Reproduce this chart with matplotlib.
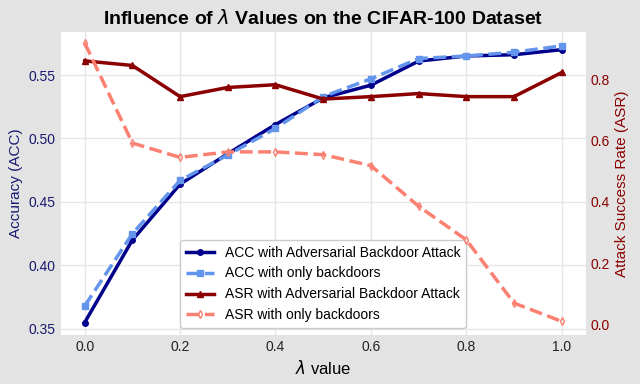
import matplotlib
matplotlib.use('Agg')
import matplotlib.pyplot as plt

plt.rcParams['font.family'] = ['Liberation Sans', 'DejaVu Sans']
plt.rcParams['mathtext.fontset'] = 'dejavusans'

# lambda values
lam = [0.0, 0.1, 0.2, 0.3, 0.4, 0.5, 0.6, 0.7, 0.8, 0.9, 1.0]

# accuracy
acc_adv = [0.355, 0.420, 0.464, 0.488, 0.511, 0.532, 0.542, 0.561, 0.565, 0.566, 0.570]
acc_only = [0.368, 0.425, 0.467, 0.487, 0.508, 0.533, 0.547, 0.563, 0.565, 0.568, 0.573]

# attack success rate
asr_adv = [0.862, 0.847, 0.745, 0.775, 0.784, 0.737, 0.745, 0.755, 0.745, 0.745, 0.824]
asr_only = [0.921, 0.593, 0.546, 0.564, 0.564, 0.555, 0.519, 0.386, 0.276, 0.069, 0.009]

fig, ax1 = plt.subplots(figsize=(6.4, 3.84), dpi=100)
fig.patch.set_facecolor('#e3e3e3')
ax1.set_facecolor('white')

l1, = ax1.plot(lam, acc_adv, color='#00008b', lw=2.5, marker='o', ms=4,
               label='ACC with Adversarial Backdoor Attack')
l2, = ax1.plot(lam, acc_only, color='#6495ed', lw=2.5, ls='--', marker='s', ms=4,
               label='ACC with only backdoors')
ax1.set_ylim(0.3453, 0.584)
ax1.set_xlim(-0.05, 1.05)
ax1.set_ylabel('Accuracy (ACC)', color='#191970', fontsize=11)
ax1.tick_params(axis='y', colors='#191970', labelsize=10, length=0)
ax1.tick_params(axis='x', labelsize=10, length=0, colors='#222222')
ax1.set_xlabel(r'$\lambda$ value', fontsize=12)
ax1.grid(True, color='#e6e6e6', lw=1)

ax2 = ax1.twinx()
l3, = ax2.plot(lam, asr_adv, color='#8b0000', lw=2.5, marker='^', ms=4,
               label='ASR with Adversarial Backdoor Attack')
l4, = ax2.plot(lam, asr_only, color='#fa8072', lw=2.5, ls='--', marker='d', ms=4,
               mfc='none', label='ASR with only backdoors')
ax2.set_ylim(-0.035, 0.957)
ax2.set_ylabel('Attack Success Rate (ASR)', color='#8b0000', fontsize=11)
ax2.tick_params(axis='y', colors='#8b0000', labelsize=10, length=0)
ax2.set_yticks([0.0, 0.2, 0.4, 0.6, 0.8])

for a in (ax1, ax2):
    for s in a.spines.values():
        s.set_visible(False)

ax1.set_title(r'Influence of $\lambda$ Values on the CIFAR-100 Dataset',
              fontsize=14, fontweight='bold')
ax1.legend(handles=[l1, l2, l3, l4], loc='lower center', fontsize=10,
           bbox_to_anchor=(0.5, 0.0), framealpha=1)

plt.subplots_adjust(left=0.095, right=0.915, top=0.917, bottom=0.128)
plt.savefig('out.png', dpi=100, facecolor=fig.get_facecolor())
